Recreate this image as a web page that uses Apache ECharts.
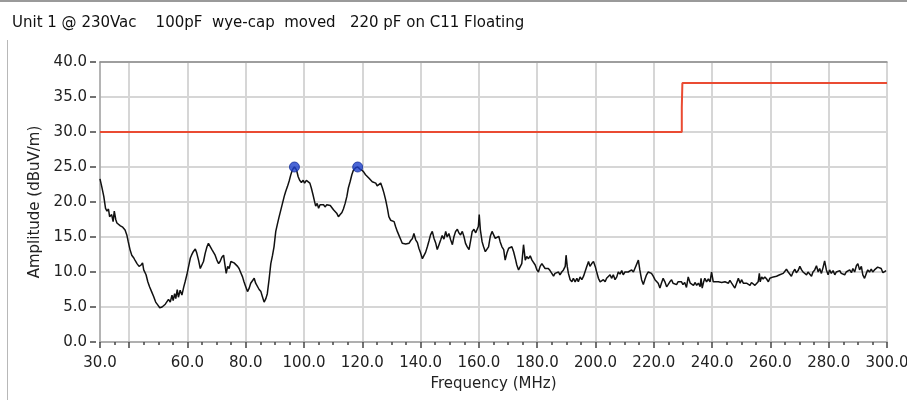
<!DOCTYPE html>
<html>
<head>
<meta charset="utf-8">
<script src="https://cdn.jsdelivr.net/npm/echarts@6/dist/echarts.min.js"></script>
<style>
  html, body { margin: 0; padding: 0; background: #ffffff; }
  #chart { width: 907px; height: 400px; }
</style>
</head>
<body>
<div id="chart"></div>
<script>
// Plot title
const titleText = 'Unit 1 @ 230Vac    100pF  wye-cap  moved   220 pF on C11 Floating';

// Measured scan: [frequency MHz, amplitude dBuV/m]
const scanTrace = [
  [30.0,23.3],[30.6,22.2],[31.3,20.8],[31.9,19.1],[32.4,18.7],[32.9,19.0],[33.3,17.9],[34.0,18.2],
  [34.5,17.2],[34.9,18.7],[35.4,17.5],[35.8,17.0],[36.4,17.2],[37.0,16.6],[37.8,16.4],[38.6,16.0],
  [39.2,15.3],[39.7,14.3],[40.3,13.2],[40.9,12.4],[41.6,12.0],[42.0,11.7],[42.7,11.2],[43.4,10.8],
  [44.1,11.0],[44.6,11.3],[45.0,10.3],[45.8,9.6],[46.4,8.6],[47.0,7.9],[47.7,7.2],[48.4,6.5],
  [49.1,5.7],[49.8,5.3],[50.5,4.9],[51.3,5.0],[51.8,4.8],[52.4,5.4],[53.0,5.5],[53.5,6.1],
  [54.1,5.7],[54.7,6.7],[55.1,5.9],[55.6,6.9],[56.0,6.2],[56.5,7.5],[56.9,6.4],[57.5,7.4],
  [58.1,6.7],[58.7,7.8],[59.2,8.6],[59.8,9.6],[60.4,10.8],[61.0,12.0],[61.4,12.4],[62.0,12.9],
  [62.7,13.3],[63.2,12.7],[63.8,11.7],[64.4,10.5],[65.0,10.3],[65.5,11.5],[66.1,12.7],[66.7,13.6],
  [67.2,14.1],[67.8,13.9],[68.4,13.2],[69.0,13.4],[69.5,12.4],[70.1,11.7],[70.7,11.2],[71.2,11.5],
  [71.8,12.1],[72.4,12.4],[72.8,11.2],[73.3,9.8],[73.8,10.8],[74.3,10.5],[74.9,11.5],[75.5,11.7],
  [76.0,11.3],[76.6,11.2],[77.2,10.8],[77.7,10.5],[78.3,9.9],[78.9,9.3],[79.4,8.6],[80.0,7.9],
  [80.6,7.2],[81.2,7.7],[81.7,8.4],[82.3,8.6],[82.9,9.1],[83.4,8.4],[84.0,8.2],[84.6,7.5],
  [85.2,7.2],[85.7,6.5],[86.3,5.7],[86.9,6.2],[87.4,6.9],[88.0,8.9],[88.6,11.2],[89.2,12.4],
  [89.7,13.6],[90.3,15.8],[90.9,16.9],[91.4,17.8],[92.0,18.8],[92.6,19.8],[93.2,20.8],[93.7,21.5],
  [94.3,22.2],[94.9,23.0],[95.4,23.8],[96.0,24.6],[96.7,25.0],[97.4,24.6],[98.0,23.6],[98.5,23.1],
  [99.1,22.8],[99.7,23.1],[100.2,22.7],[100.8,23.1],[101.4,23.2],[102.0,22.7],[102.5,22.0],[103.1,21.0],
  [103.6,20.1],[104.0,19.4],[104.5,19.8],[105.0,19.1],[105.5,19.6],[106.1,19.4],[106.7,19.6],[107.2,19.3],
  [107.8,19.6],[108.4,19.8],[109.0,19.5],[109.5,19.6],[110.1,18.9],[110.7,18.7],[111.2,18.4],[111.8,17.9],
  [112.4,18.2],[113.0,18.5],[113.5,19.0],[114.1,19.8],[114.7,20.8],[115.2,22.0],[115.8,22.9],[116.4,23.9],
  [116.9,24.5],[117.7,24.9],[118.4,25.0],[119.2,24.7],[120.0,24.5],[120.6,24.2],[121.1,23.9],[121.7,24.0],
  [122.3,23.4],[122.8,23.2],[123.4,22.9],[124.0,23.0],[124.6,22.7],[125.1,22.3],[125.7,22.5],[126.3,22.7],
  [126.9,22.0],[127.4,21.3],[128.0,20.3],[128.6,19.1],[129.1,17.9],[129.7,17.4],[130.3,17.5],[130.9,17.2],
  [131.4,16.5],[132.0,15.8],[132.6,15.2],[133.2,14.6],[133.7,14.1],[134.3,14.2],[134.9,14.0],[135.4,14.2],
  [136.0,14.1],[136.6,14.5],[137.2,14.8],[137.7,15.5],[138.3,14.6],[138.9,14.2],[139.4,13.4],[140.0,12.7],
  [140.6,11.9],[141.2,12.1],[141.7,12.8],[142.3,13.6],[142.9,14.5],[143.4,15.3],[144.0,15.8],[144.6,14.8],
  [145.2,14.1],[145.7,13.2],[146.3,13.9],[146.9,14.6],[147.4,15.2],[148.0,14.7],[148.6,15.8],[149.1,15.0],
  [149.7,15.5],[150.3,14.6],[150.9,13.9],[151.4,15.0],[152.0,15.8],[152.6,16.1],[153.1,15.6],[153.7,15.3],
  [154.3,15.8],[154.9,15.0],[155.4,14.1],[156.0,13.6],[156.6,13.2],[157.2,14.6],[157.7,15.8],[158.3,16.1],
  [158.9,15.6],[159.4,16.1],[159.8,16.5],[160.1,18.2],[160.5,16.0],[161.1,14.3],[161.6,13.6],[162.2,12.9],
  [162.8,12.7],[163.3,13.6],[163.9,15.1],[164.5,15.8],[165.0,15.6],[165.6,14.8],[166.2,14.6],[166.8,15.1],
  [167.3,14.3],[167.9,13.6],[168.5,13.2],[169.0,11.7],[169.6,12.7],[170.2,13.4],[170.8,13.6],[171.3,13.6],
  [171.9,12.9],[172.5,11.9],[173.0,11.0],[173.6,10.3],[174.2,10.4],[174.7,11.2],[175.3,13.9],[175.9,11.7],
  [176.4,12.2],[177.0,11.9],[177.6,12.3],[178.2,11.7],[178.7,11.8],[179.3,11.0],[179.9,10.3],[180.4,10.0],
  [181.0,10.8],[181.6,11.2],[182.1,11.0],[182.7,10.5],[183.3,10.3],[183.8,10.5],[184.4,10.2],[185.0,9.8],
  [185.6,9.4],[186.1,9.8],[186.7,9.6],[187.3,10.0],[187.8,9.6],[188.4,10.0],[189.0,10.3],[189.6,10.8],
  [189.9,12.4],[190.3,10.8],[190.7,9.8],[191.3,8.9],[191.9,8.6],[192.4,9.1],[193.0,8.6],[193.6,9.1],
  [194.1,8.6],[194.7,9.3],[195.3,8.9],[195.9,9.4],[196.4,9.3],[197.0,10.8],[197.6,11.5],[198.1,10.8],
  [198.7,11.2],[199.3,11.5],[199.9,10.8],[200.4,10.0],[201.0,9.1],[201.6,8.6],[202.1,8.4],[202.7,8.9],
  [203.3,8.6],[203.8,9.1],[204.4,8.9],[205.0,9.6],[205.5,9.1],[206.1,9.6],[206.7,8.9],[207.3,9.3],
  [207.8,10.0],[208.4,9.7],[209.0,10.2],[209.5,9.6],[210.1,10.0],[210.7,9.9],[211.2,10.0],[211.8,10.0],
  [212.4,10.3],[213.0,10.0],[213.5,10.5],[214.1,10.3],[214.7,11.7],[215.2,10.3],[215.8,8.9],[216.4,8.2],
  [216.9,8.9],[217.5,9.6],[218.1,10.0],[218.7,10.2],[219.2,9.8],[219.8,9.4],[220.4,8.9],[220.9,8.9],
  [221.5,8.4],[222.1,7.7],[222.6,8.4],[223.2,9.1],[223.8,8.6],[224.4,7.9],[224.9,8.2],[225.5,8.6],
  [226.1,8.9],[226.6,8.4],[227.2,8.6],[227.8,8.2],[228.3,8.6],[228.9,8.4],[229.5,8.6],[230.0,8.2],
  [230.6,8.5],[231.2,7.8],[231.8,9.3],[232.5,8.4],[233.0,8.6],[233.6,8.1],[234.2,8.5],[234.7,8.1],
  [235.3,8.4],[235.9,7.9],[236.2,9.1],[236.6,7.7],[237.1,8.6],[237.5,9.1],[238.1,8.6],[238.7,9.0],
  [239.3,8.6],[239.8,10.0],[240.4,8.6],[241.0,8.6],[242.1,8.6],[243.3,8.5],[244.4,8.6],[245.6,8.4],
  [246.1,8.8],[246.7,8.4],[247.3,8.6],[247.8,7.7],[248.4,8.4],[249.0,9.1],[249.6,8.4],[250.1,8.9],
  [250.7,8.4],[251.3,8.6],[251.8,8.4],[252.4,8.5],[253.0,8.1],[253.5,8.5],[254.1,8.4],[254.7,8.1],
  [255.2,7.9],[255.8,8.6],[256.2,9.8],[256.5,8.6],[257.0,9.3],[257.5,9.0],[258.1,9.3],[258.7,9.0],
  [259.3,8.6],[259.8,9.1],[260.4,9.0],[261.0,9.3],[261.5,9.1],[262.1,9.4],[262.7,9.3],[263.2,9.6],
  [263.8,9.4],[264.4,9.8],[265.0,9.9],[265.5,10.4],[266.1,10.0],[266.7,10.0],[267.2,9.4],[267.8,10.0],
  [268.4,10.4],[268.9,9.9],[269.5,10.2],[270.1,10.8],[270.7,10.3],[271.2,10.0],[271.8,10.2],[272.4,9.6],
  [272.9,10.0],[273.5,9.8],[274.1,9.4],[274.6,10.0],[275.2,10.3],[275.8,10.9],[276.4,10.0],[276.9,10.5],
  [277.5,9.8],[278.1,10.7],[278.6,11.6],[279.2,10.3],[279.8,9.6],[280.3,10.3],[280.9,9.8],[281.5,10.2],
  [282.1,9.6],[282.6,10.0],[283.2,9.8],[283.8,10.2],[284.3,9.8],[284.9,10.0],[285.5,9.6],[286.0,10.0],
  [286.6,9.8],[287.2,10.3],[287.8,9.9],[288.3,10.5],[288.9,10.0],[289.5,10.9],[290.0,11.2],[290.6,10.3],
  [291.2,10.8],[291.7,9.6],[292.3,9.1],[292.9,9.8],[293.4,10.3],[294.0,10.0],[294.6,10.4],[295.1,10.0],
  [295.7,10.3],[296.3,10.5],[296.8,10.7],[297.4,10.9],[298.0,10.5],[298.6,9.9],[299.1,10.0],[299.7,10.2]
];

// Limit line (dBuV/m) vs frequency (MHz)
const limitFreq = [30, 229.6, 229.6, 229.8, 229.8, 300];
const limitAmp  = [30, 30, 33.5, 33.5, 37, 37];

// Marked peaks
const peakFreq = [96.7, 118.4];
const peakAmp  = [25.0, 25.0];

// Axis ranges and ticks
const xMin = 30, xMax = 300;
const xMajorTicks = [30, 40, 60, 80, 100, 120, 140, 160, 180, 200, 220, 240, 260, 280, 300];
const xLabelValues = [30, 60, 80, 100, 120, 140, 160, 180, 200, 220, 240, 260, 280, 300];
const yMin = 0, yMax = 40, yStep = 5;

const FONT = 'DejaVu Sans';
const GRID_COLOR = '#d6d6d6';
const FRAME_COLOR = '#a2a2a2';

const chart = echarts.init(document.getElementById('chart'), null, { renderer: 'canvas' });

chart.setOption({
  backgroundColor: '#ffffff',
  animation: false,
  title: {
    text: titleText,
    left: 7,
    top: 11,
    textStyle: { fontFamily: FONT, fontSize: 15, fontWeight: 'normal', color: '#111' }
  },
  graphic: [
    { type: 'line', shape: { x1: 0, y1: 1, x2: 907, y2: 1 }, style: { stroke: '#9a9a9a', lineWidth: 2 }, silent: true },
    { type: 'line', shape: { x1: 7.5, y1: 40, x2: 7.5, y2: 400 }, style: { stroke: '#b8b8b8', lineWidth: 1 }, silent: true }
  ],
  grid: {
    left: 100, right: 20, top: 62, bottom: 58,
    outerBoundsMode: 'none', containLabel: false,
    show: true, borderColor: GRID_COLOR, borderWidth: 1, backgroundColor: '#ffffff'
  },
  xAxis: [
    {
      // fine 5 MHz ticks and the vertical grid lines
      type: 'value', min: xMin, max: xMax, interval: 5, position: 'bottom', offset: 4,
      axisLine: { show: false },
      axisTick: { show: true, length: 3, lineStyle: { color: '#444', width: 1.5 } },
      axisLabel: { show: false },
      splitLine: { show: true, lineStyle: { color: ['transparent', 'transparent', GRID_COLOR, 'transparent'], width: 2 } }
    },
    {
      // major ticks and labels
      type: 'value', min: xMin, max: xMax, position: 'bottom', offset: 4,
      axisLine: { show: false },
      axisTick: { show: true, length: 6, customValues: xMajorTicks, lineStyle: { color: '#444', width: 1.5 } },
      axisLabel: {
        customValues: xLabelValues, margin: 10,
        fontFamily: FONT, fontSize: 15, color: '#222',
        formatter: v => v.toFixed(1)
      },
      splitLine: { show: false },
      name: 'Frequency (MHz)', nameLocation: 'middle', nameGap: 31,
      nameTextStyle: { fontFamily: FONT, fontSize: 15, color: '#222' }
    },
    {
      // bottom frame line of the plot
      type: 'value', min: xMin, max: xMax, position: 'bottom',
      axisLine: { show: true, lineStyle: { color: FRAME_COLOR, width: 1.5 } },
      axisTick: { show: false }, axisLabel: { show: false }, splitLine: { show: false }
    },
    {
      // top frame line of the plot
      type: 'value', min: xMin, max: xMax, position: 'top',
      axisLine: { show: true, lineStyle: { color: '#8c8c8c', width: 1.5 } },
      axisTick: { show: false }, axisLabel: { show: false }, splitLine: { show: false }
    }
  ],
  yAxis: [
    {
      type: 'value', min: yMin, max: yMax, interval: yStep, offset: 4,
      axisLine: { show: false },
      axisTick: { show: true, length: 6, lineStyle: { color: '#444', width: 1.5 } },
      axisLabel: { margin: 9, fontFamily: FONT, fontSize: 15, color: '#222', formatter: v => v.toFixed(1) },
      splitLine: { show: true, lineStyle: { color: GRID_COLOR, width: 2 } },
      name: 'Amplitude (dBuV/m)', nameLocation: 'middle', nameRotate: 90, nameGap: 49,
      nameTextStyle: { fontFamily: FONT, fontSize: 15, color: '#222' }
    },
    {
      // left frame line of the plot
      type: 'value', min: yMin, max: yMax, position: 'left',
      axisLine: { show: true, lineStyle: { color: FRAME_COLOR, width: 1.5 } },
      axisTick: { show: false }, axisLabel: { show: false }, splitLine: { show: false }
    }
  ],
  series: [
    {
      name: 'Limit', type: 'line', xAxisIndex: 0, yAxisIndex: 0,
      data: limitFreq.map((f, i) => [f, limitAmp[i]]),
      showSymbol: false, lineStyle: { color: '#ea4b32', width: 2 }, z: 3
    },
    {
      name: 'Scan', type: 'line', xAxisIndex: 0, yAxisIndex: 0,
      data: scanTrace,
      showSymbol: false, lineStyle: { color: '#111111', width: 1.5 }, z: 4
    },
    {
      name: 'Peaks', type: 'scatter', xAxisIndex: 0, yAxisIndex: 0,
      data: peakFreq.map((f, i) => [f, peakAmp[i]]),
      symbol: 'circle', symbolSize: 10,
      itemStyle: { color: '#1d40cc', borderColor: '#15309a', borderWidth: 1 }, z: 5
    }
  ]
});
</script>
</body>
</html>
